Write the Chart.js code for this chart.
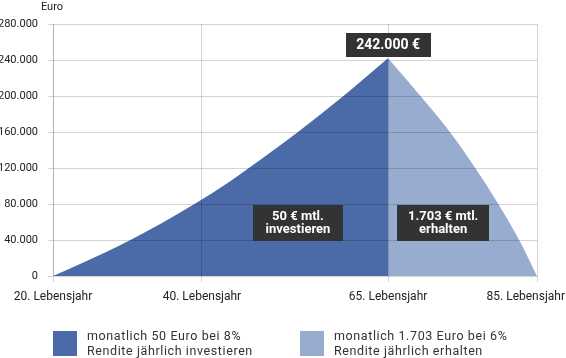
<!DOCTYPE html>
<html>
<head>
<meta charset="utf-8">
<script src="https://cdn.jsdelivr.net/npm/chart.js@4.4.1/dist/chart.umd.min.js"></script>
<style>
  html, body { margin: 0; padding: 0; background: #fff; }
  #wrap { position: relative; width: 566px; height: 358px; }
</style>
</head>
<body>
<div id="wrap"><canvas id="c" width="566" height="358"></canvas></div>
<script>
// ---- data ----
const investAges   = [20, 24.3, 30.4, 39.0, 43.7, 46.3, 52.9, 59.0, 65];
const investValues = [0, 15900, 40000, 80000, 104800, 120000, 160000, 200000, 242000];
const payoutAges   = [65, 69.35, 73.3, 76.7, 79.8, 82.6, 85];
const payoutValues = [242000, 200000, 160000, 120000, 80000, 40000, 0];
const xTickValues  = [20, 40, 65, 85];
const xTickLabels  = ['20. Lebensjahr', '40. Lebensjahr', '65. Lebensjahr', '85. Lebensjahr'];
const yTickValues  = [0, 40000, 80000, 120000, 160000, 200000, 240000, 280000];
const yAxisTitle   = 'Euro';
const peakLabel    = '242.000 €';
const investBox    = ['50 € mtl.', 'investieren'];
const payoutBox    = ['1.703 € mtl.', 'erhalten'];
const legendLabels = [
  ['monatlich 50 Euro bei 8%', 'Rendite jährlich investieren'],
  ['monatlich 1.703 Euro bei 6%', 'Rendite jährlich erhalten']
];
const colors = ['#4a6ba8', '#98acd0'];

const toPts = (xs, ys) => xs.map((x, i) => ({x: x, y: ys[i]}));
const fmt = v => String(v).replace(/\B(?=(\d{3})+(?!\d))/g, '.');
const FONT = 'Roboto, "Liberation Sans", sans-serif';

const overlay = {
  id: 'overlay',
  afterDraw(chart) {
    const ctx = chart.ctx;
    const xs = chart.scales.x, ys = chart.scales.y;
    ctx.save();
    // y-axis title
    ctx.fillStyle = '#222';
    ctx.font = '11px ' + FONT;
    ctx.textAlign = 'center';
    ctx.textBaseline = 'middle';
    ctx.fillText(yAxisTitle, xs.left - 1, 7);

    // x tick labels (clamped to canvas)
    ctx.font = '12px ' + FONT;
    ctx.textBaseline = 'middle';
    ctx.textAlign = 'left';
    xTickValues.forEach((v, i) => {
      const t = xTickLabels[i];
      const w = ctx.measureText(t).width;
      let px = xs.getPixelForValue(v) - w / 2;
      px = Math.max(1, Math.min(chart.width - w - 1, px));
      ctx.fillText(t, px, 297);
    });

    // dark label boxes
    function box(lines, cx, cy, w, h, size) {
      ctx.fillStyle = '#333333';
      ctx.fillRect(Math.round(cx - w / 2), Math.round(cy - h / 2), w, h);
      ctx.fillStyle = '#ffffff';
      ctx.font = 'bold ' + size + 'px ' + FONT;
      ctx.textAlign = 'center';
      ctx.textBaseline = 'middle';
      const lh = 13;
      lines.forEach((l, i) => {
        ctx.fillText(l, cx, cy + (i - (lines.length - 1) / 2) * lh);
      });
    }
    const peakX = xs.getPixelForValue(payoutAges[0]);
    const peakY = ys.getPixelForValue(payoutValues[0]);
    box([peakLabel], peakX, peakY - 13, 85, 24, 14);
    box(investBox, xs.getPixelForValue(52.9), ys.getPixelForValue(58500), 90, 36, 13);
    box(payoutBox, xs.getPixelForValue(72.4), ys.getPixelForValue(58500), 92, 36, 13);

    // legend
    const lx = [53, 300];
    lx.forEach((x, i) => {
      ctx.fillStyle = colors[i];
      ctx.fillRect(x, 331, 24, 25);
      ctx.fillStyle = '#333';
      ctx.font = '12.5px ' + FONT;
      try { ctx.letterSpacing = '0.6px'; } catch (e) {}
      ctx.textAlign = 'left';
      ctx.textBaseline = 'middle';
      ctx.fillText(legendLabels[i][0], x + 34, 337);
      ctx.fillText(legendLabels[i][1], x + 34, 352);
      try { ctx.letterSpacing = '0px'; } catch (e) {}
    });
    ctx.restore();
  }
};

new Chart(document.getElementById('c'), {
  type: 'line',
  data: {
    datasets: [
      {
        label: legendLabels[0].join(' '),
        data: toPts(investAges, investValues),
        backgroundColor: colors[0],
        borderColor: colors[0],
        borderWidth: 0,
        pointRadius: 0,
        fill: 'origin',
        cubicInterpolationMode: 'monotone'
      },
      {
        label: legendLabels[1].join(' '),
        data: toPts(payoutAges, payoutValues),
        backgroundColor: colors[1],
        borderColor: colors[1],
        borderWidth: 0,
        pointRadius: 0,
        fill: 'origin',
        tension: 0.4
      }
    ]
  },
  options: {
    responsive: false,
    animation: false,
    events: [],
    layout: { padding: { left: 0, right: 29, top: 24, bottom: 50 } },
    plugins: { legend: { display: false }, tooltip: { enabled: false } },
    scales: {
      x: {
        type: 'linear',
        min: 20,
        max: 85,
        afterBuildTicks: s => { s.ticks = xTickValues.map(v => ({value: v})); },
        afterFit: s => { s.height = 32; s.paddingLeft = 0; s.paddingRight = 0; },
        grid: { color: 'rgba(0,0,0,0.17)', z: 1, tickLength: 6, drawTicks: true },
        border: { display: false },
        ticks: { display: true, color: 'rgba(0,0,0,0)', font: { size: 1 } }
      },
      y: {
        min: 0,
        max: 280000,
        afterBuildTicks: s => { s.ticks = yTickValues.map(v => ({value: v})); },
        afterFit: s => { s.width = 53; s.paddingTop = 0; s.paddingBottom = 0; },
        grid: { color: 'rgba(0,0,0,0.17)', z: 1, tickLength: 5 },
        border: { display: true, color: 'rgba(0,0,0,0.17)', z: 1 },
        ticks: {
          color: '#222',
          font: { family: FONT, size: 11 },
          padding: 10,
          callback: v => fmt(v)
        }
      }
    }
  },
  plugins: [overlay]
});
</script>
</body>
</html>
